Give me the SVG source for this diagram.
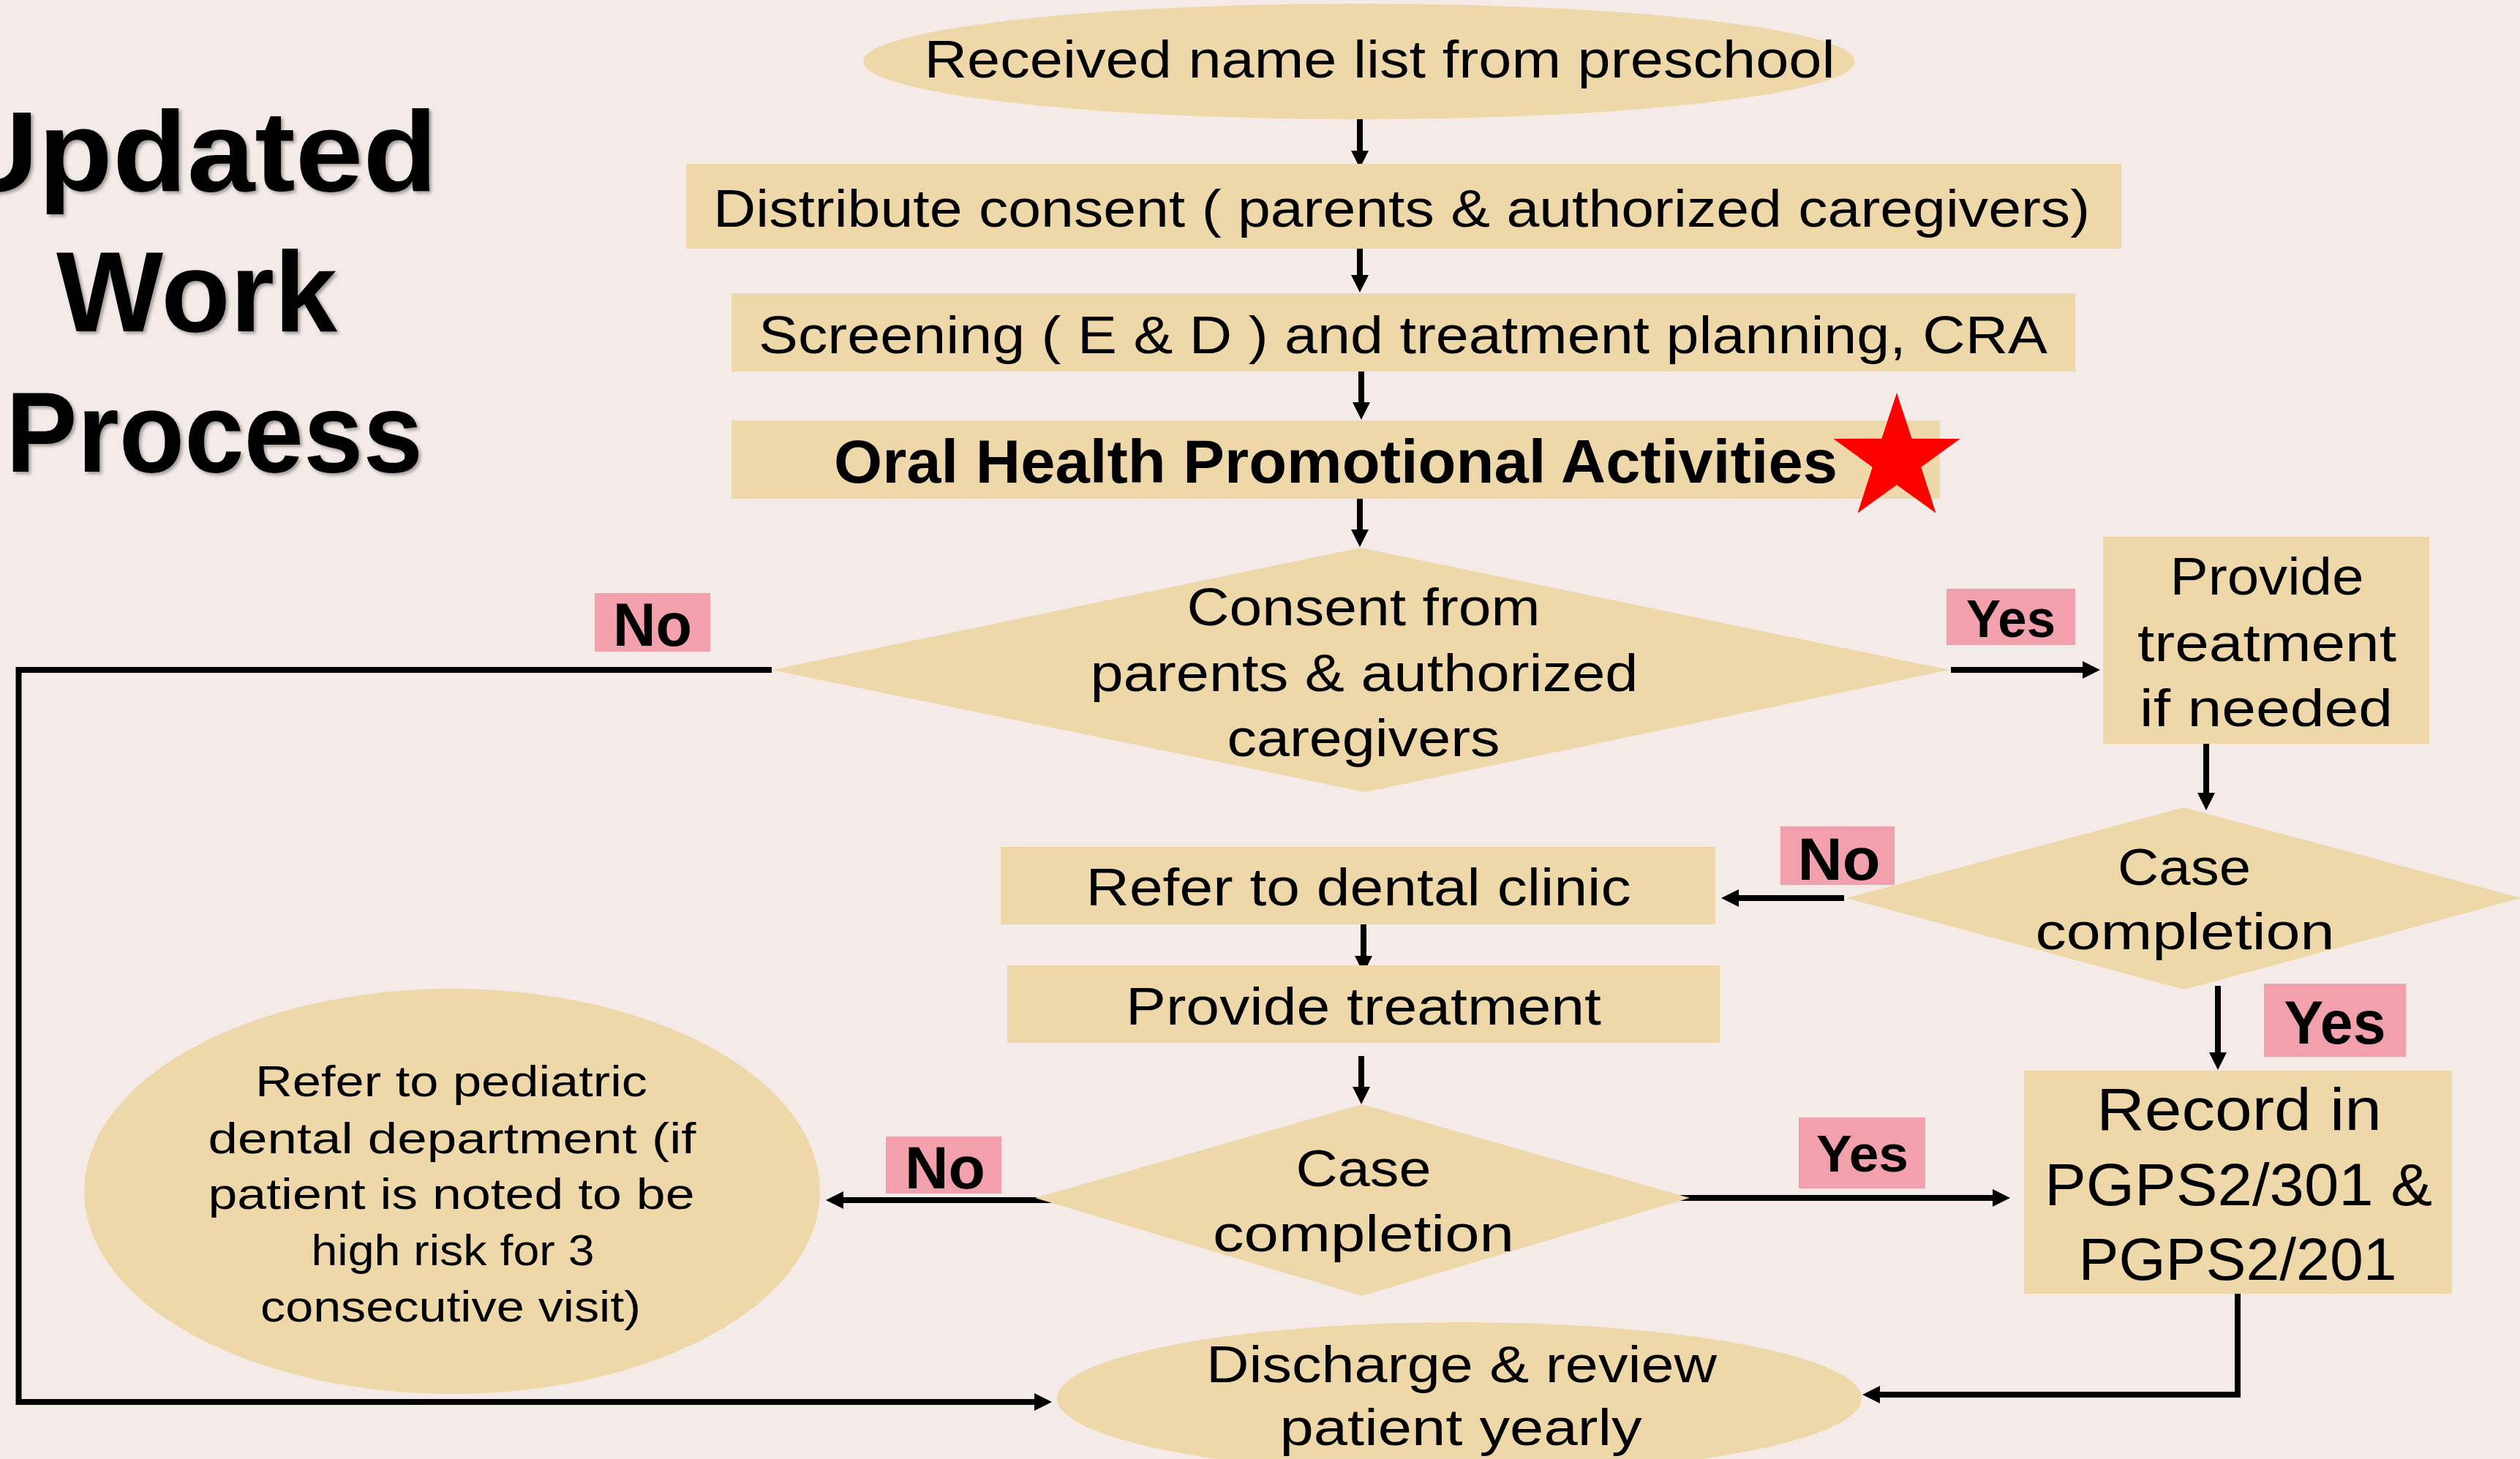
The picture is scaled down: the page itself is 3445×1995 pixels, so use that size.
<svg xmlns="http://www.w3.org/2000/svg" width="3445" height="1995" viewBox="0 0 3445 1995">
<defs>
<style>
.node{fill:#eed8a9}
.lbl{fill:#f2a0ac}
.t{font-family:"Liberation Sans",Arial,sans-serif;fill:#000;text-anchor:middle}
.b{font-family:"Liberation Sans",Arial,sans-serif;font-weight:bold;fill:#000;text-anchor:middle}
.ttl{font-family:"Liberation Sans",Arial,sans-serif;font-weight:bold;font-size:156px;fill:#000}
.e{fill:none;stroke:#000;stroke-width:8;stroke-linejoin:miter;marker-end:url(#ah)}
</style>
<marker id="ah" markerUnits="userSpaceOnUse" viewBox="0 0 24 24" markerWidth="24" markerHeight="24" refX="12" refY="12" orient="auto">
<path d="M0,0 L24,12 L0,24 z" fill="#000"/>
</marker>
<filter id="sh" x="-10%" y="-10%" width="120%" height="130%">
<feDropShadow dx="3" dy="3" stdDeviation="2" flood-color="#000" flood-opacity="0.35"/>
</filter>
</defs>
<rect width="3445" height="1995" fill="#f4ebe8"/>

<g id="title" filter="url(#sh)">
<text class="ttl" x="-68" y="261" textLength="666" lengthAdjust="spacingAndGlyphs">Updated</text>
<text class="ttl" x="77" y="453" textLength="384" lengthAdjust="spacingAndGlyphs">Work</text>
<text class="ttl" x="8" y="645" textLength="570" lengthAdjust="spacingAndGlyphs">Process</text>
</g>

<g id="connectors">
<path class="e" d="M1859,163 V218"/>
<path class="e" d="M1859,340 V388"/>
<path class="e" d="M1861,508 V562"/>
<path class="e" d="M1859,682 V736"/>
<path class="e" d="M1055,916 H25.5 V1917 H1426"/>
<path class="e" d="M2667,916 H2859"/>
<path class="e" d="M3016,1014 V1096"/>
<path class="e" d="M2521,1228 H2365"/>
<path class="e" d="M1864,1264 V1319"/>
<path class="e" d="M1861,1444 V1498"/>
<path class="e" d="M1438,1641 H1141"/>
<path class="e" d="M2278,1638 H2736"/>
<path class="e" d="M3032,1348 V1451"/>
<path class="e" d="M3059,1769 V1907 H2558"/>
</g>

<g id="n-received">
<ellipse class="node" cx="1858" cy="84" rx="678" ry="79"/>
<text class="t" x="1886" y="106" font-size="72" textLength="1245" lengthAdjust="spacingAndGlyphs">Received name list from preschool</text>
</g>

<g id="n-distribute">
<rect class="node" x="938" y="224" width="1962" height="116"/>
<text class="t" x="1916" y="310" font-size="72" textLength="1882" lengthAdjust="spacingAndGlyphs">Distribute consent ( parents &amp; authorized caregivers)</text>
</g>

<g id="n-screening">
<rect class="node" x="1000" y="401" width="1837" height="107"/>
<text class="t" x="1918" y="483" font-size="72" textLength="1762" lengthAdjust="spacingAndGlyphs">Screening ( E &amp; D ) and treatment planning, CRA</text>
</g>

<g id="n-oral">
<rect class="node" x="1000" y="575" width="1652" height="107"/>
<text class="b" x="1826" y="660" font-size="83" textLength="1372" lengthAdjust="spacingAndGlyphs">Oral Health Promotional Activities</text>
<polygon fill="#ff0000" points="2593,537 2613.6,599.7 2679.5,599.9 2626.3,638.8 2646.5,701.6 2593,663 2539.5,701.6 2559.7,638.8 2506.5,599.9 2572.4,599.7"/>
</g>

<g id="n-consent">
<polygon class="node" points="1860,749 2665,916 1866,1083 1055,916"/>
<text class="t" x="1864" y="855" font-size="72" textLength="483" lengthAdjust="spacingAndGlyphs">Consent from</text>
<text class="t" x="1865" y="945" font-size="72" textLength="749" lengthAdjust="spacingAndGlyphs">parents &amp; authorized</text>
<text class="t" x="1864" y="1034" font-size="72" textLength="373" lengthAdjust="spacingAndGlyphs">caregivers</text>
</g>

<g id="n-provide-if-needed">
<rect class="node" x="2875" y="734" width="446" height="283"/>
<text class="t" x="3099" y="813" font-size="72" textLength="265" lengthAdjust="spacingAndGlyphs">Provide</text>
<text class="t" x="3099" y="904" font-size="72" textLength="354" lengthAdjust="spacingAndGlyphs">treatment</text>
<text class="t" x="3098" y="993" font-size="72" textLength="346" lengthAdjust="spacingAndGlyphs">if needed</text>
</g>

<g id="n-case-right">
<polygon class="node" points="2985,1104 3447,1228 2986,1353 2524,1228"/>
<text class="t" x="2986" y="1210" font-size="70" textLength="182" lengthAdjust="spacingAndGlyphs">Case</text>
<text class="t" x="2987" y="1298" font-size="70" textLength="409" lengthAdjust="spacingAndGlyphs">completion</text>
</g>

<g id="n-refer-clinic">
<rect class="node" x="1368" y="1158" width="977" height="106"/>
<text class="t" x="1857" y="1238" font-size="72" textLength="745" lengthAdjust="spacingAndGlyphs">Refer to dental clinic</text>
</g>

<g id="n-provide">
<rect class="node" x="1377" y="1320" width="974" height="106"/>
<text class="t" x="1864" y="1401" font-size="72" textLength="650" lengthAdjust="spacingAndGlyphs">Provide treatment</text>
</g>

<g id="n-case-lower">
<polygon class="node" points="1862,1510 2310,1638 1862,1772 1415,1638"/>
<text class="t" x="1864" y="1622" font-size="70" textLength="185" lengthAdjust="spacingAndGlyphs">Case</text>
<text class="t" x="1864" y="1711" font-size="70" textLength="412" lengthAdjust="spacingAndGlyphs">completion</text>
</g>

<g id="n-pediatric">
<ellipse class="node" cx="618" cy="1629" rx="503" ry="277"/>
<text class="t" x="617" y="1499" font-size="60" textLength="536" lengthAdjust="spacingAndGlyphs">Refer to pediatric</text>
<text class="t" x="618" y="1577" font-size="60" textLength="667" lengthAdjust="spacingAndGlyphs">dental department (if</text>
<text class="t" x="617" y="1653" font-size="60" textLength="665" lengthAdjust="spacingAndGlyphs">patient is noted to be</text>
<text class="t" x="619" y="1730" font-size="60" textLength="387" lengthAdjust="spacingAndGlyphs">high risk for 3</text>
<text class="t" x="616" y="1807" font-size="60" textLength="520" lengthAdjust="spacingAndGlyphs">consecutive visit)</text>
</g>

<g id="n-record">
<rect class="node" x="2767" y="1464" width="585" height="305"/>
<text class="t" x="3061" y="1545" font-size="82" textLength="390" lengthAdjust="spacingAndGlyphs">Record in</text>
<text class="t" x="3060" y="1648" font-size="82" textLength="530" lengthAdjust="spacingAndGlyphs">PGPS2/301 &amp;</text>
<text class="t" x="3059" y="1750" font-size="82" textLength="435" lengthAdjust="spacingAndGlyphs">PGPS2/201</text>
</g>

<g id="n-discharge">
<ellipse class="node" cx="1995" cy="1912" rx="550" ry="104"/>
<text class="t" x="1998" y="1890" font-size="70" textLength="698" lengthAdjust="spacingAndGlyphs">Discharge &amp; review</text>
<text class="t" x="1997" y="1976" font-size="70" textLength="495" lengthAdjust="spacingAndGlyphs">patient yearly</text>
</g>

<g id="labels">
<g id="l-no-top"><rect class="lbl" x="813" y="811" width="158" height="80"/><text class="b" x="892" y="883" font-size="84" textLength="108" lengthAdjust="spacingAndGlyphs">No</text></g>
<g id="l-yes-top"><rect class="lbl" x="2661" y="805" width="176" height="77"/><text class="b" x="2749" y="871" font-size="73" textLength="122" lengthAdjust="spacingAndGlyphs">Yes</text></g>
<g id="l-no-right"><rect class="lbl" x="2434" y="1130" width="156" height="80"/><text class="b" x="2514" y="1203" font-size="82" textLength="113" lengthAdjust="spacingAndGlyphs">No</text></g>
<g id="l-yes-right"><rect class="lbl" x="3095" y="1345" width="194" height="100"/><text class="b" x="3192" y="1427" font-size="84" textLength="139" lengthAdjust="spacingAndGlyphs">Yes</text></g>
<g id="l-no-lower"><rect class="lbl" x="1211" y="1554" width="158" height="78"/><text class="b" x="1292" y="1625" font-size="82" textLength="110" lengthAdjust="spacingAndGlyphs">No</text></g>
<g id="l-yes-lower"><rect class="lbl" x="2459" y="1528" width="173" height="97"/><text class="b" x="2546" y="1602" font-size="70" textLength="126" lengthAdjust="spacingAndGlyphs">Yes</text></g>
</g>
</svg>
